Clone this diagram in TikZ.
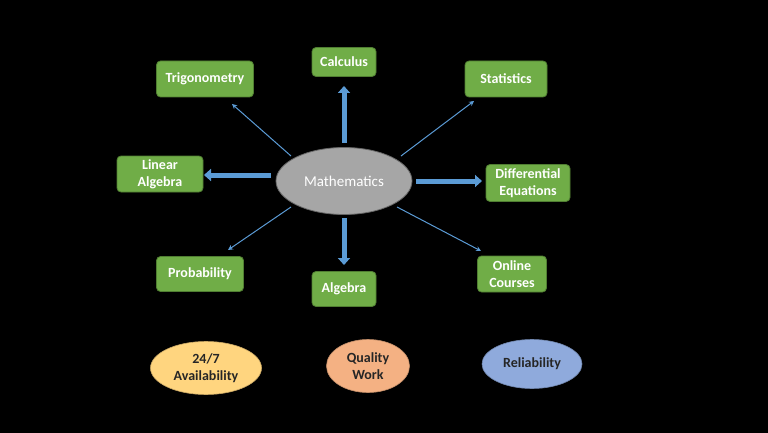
\documentclass[tikz,border=0pt]{standalone}
\usepackage{fontspec}
\setmainfont{Carlito}
\usetikzlibrary{arrows.meta,shapes.geometric}
\definecolor{boxgreen}{HTML}{70AD47}
\definecolor{boxedge}{HTML}{507E32}
\definecolor{arrowblue}{HTML}{5B9BD5}
\definecolor{mathgray}{HTML}{A6A6A6}
\definecolor{yellowfill}{HTML}{FFD57F}
\definecolor{salmonfill}{HTML}{F4B183}
\definecolor{bluefill}{HTML}{8FAADC}
\tikzset{
  topic/.style={rectangle, rounded corners=4pt, fill=boxgreen, draw=boxedge, line width=0.8pt,
    text=white, font=\fontsize{14}{17}\selectfont\bfseries, align=center, inner sep=0pt},
  hub/.style={ellipse, fill=mathgray, draw=gray!80!black, line width=0.8pt, text=white,
    font=\fontsize{15}{17}\selectfont, inner sep=0pt},
  feature/.style={ellipse, line width=0.6pt, text=black!85, align=center,
    font=\fontsize{14}{17}\selectfont\bfseries, inner sep=0pt},
  bigarrow/.style={draw=arrowblue, line width=5pt, -{Triangle[width=12pt,length=7pt]}},
  thinarrow/.style={draw=arrowblue, line width=1pt, -{Stealth[width=5pt,length=5pt]}},
}
\begin{document}
\begin{tikzpicture}[x=1pt,y=-1pt]
\fill[black] (0,0) rectangle (768,433);
\useasboundingbox (0,0) rectangle (768,433);

\node[hub, minimum width=136pt, minimum height=67pt] (math) at (344,181) {Mathematics};

\node[topic, minimum width=97pt, minimum height=36pt] (trig) at (205,79) {Trigonometry};
\node[topic, minimum width=64pt, minimum height=29pt] (calc) at (344,62) {Calculus};
\node[topic, minimum width=82pt, minimum height=36pt] (stat) at (506,79) {Statistics};
\node[topic, minimum width=86pt, minimum height=36pt] (linalg) at (160,174) {Linear\\Algebra};
\node[topic, minimum width=84pt, minimum height=37pt] (diffeq) at (528,183) {Differential\\Equations};
\node[topic, minimum width=87pt, minimum height=35pt] (prob) at (200,274) {Probability};
\node[topic, minimum width=64pt, minimum height=35pt] (alg) at (344,289) {Algebra};
\node[topic, minimum width=69pt, minimum height=36pt] (online) at (512,274) {Online\\Courses};

\node[feature, fill=yellowfill, draw=yellowfill!80!black, minimum width=111pt, minimum height=53pt] (avail) at (206,368) {24/7\\Availability};
\node[feature, fill=salmonfill, draw=salmonfill!80!black, minimum width=83pt, minimum height=53pt] (quality) at (368,366) {Quality\\Work};
\node[feature, fill=bluefill, draw=bluefill!80!black, minimum width=100pt, minimum height=49pt] (rel) at (532,364) {Reliability};

\coordinate (cS) at (344,143);
\coordinate (cE) at (344,86);
\coordinate (lS) at (271,175);
\coordinate (lE) at (204,175);
\coordinate (dS) at (416,181);
\coordinate (dE) at (482,181);
\coordinate (aS) at (344,218);
\coordinate (aE) at (344,265);
\draw[bigarrow] (cS) -- (cE);
\draw[bigarrow] (lS) -- (lE);
\draw[bigarrow] (dS) -- (dE);
\draw[bigarrow] (aS) -- (aE);

\coordinate (tS) at (291,156);
\coordinate (tE) at (232,104);
\coordinate (sS) at (401,156);
\coordinate (sE) at (474,101);
\coordinate (pS) at (291,207);
\coordinate (pE) at (228,250);
\coordinate (oS) at (397,207);
\coordinate (oE) at (481,251);
\draw[thinarrow] (tS) -- (tE);
\draw[thinarrow] (sS) -- (sE);
\draw[thinarrow] (pS) -- (pE);
\draw[thinarrow] (oS) -- (oE);
\end{tikzpicture}
\end{document}
